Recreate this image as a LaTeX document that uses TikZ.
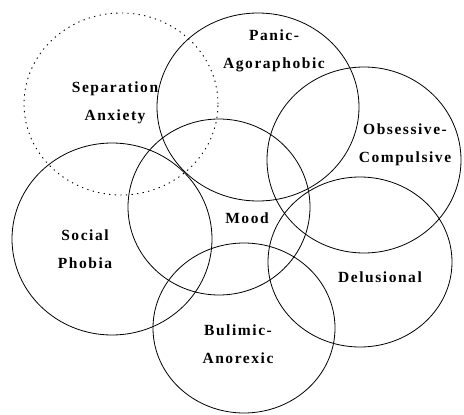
\documentclass[tikz,border=0pt]{standalone}
\usepackage{fontspec}
\setmainfont{Liberation Serif}
\newfontfamily\lblfont[LetterSpace=10]{Liberation Serif}
\usetikzlibrary{positioning}

\begin{document}
\begin{tikzpicture}[x=1pt,y=-1pt,
  ring/.style={draw=black,line width=0.8pt},
  dotring/.style={draw=black,line width=0.9pt,dash pattern=on 1.3pt off 4.3pt},
  lbl/.style={font=\lblfont\bfseries\fontsize{15.5}{28}\selectfont,align=center,inner sep=1pt}]
\useasboundingbox (0,0) rectangle (464,415);
% the seven disorder circles
\draw[dotring] (121,104) ellipse [x radius=97pt,y radius=91pt];
\draw[ring] (258,107) ellipse [x radius=101pt,y radius=94pt];
\draw[ring] (364,160) ellipse [x radius=97pt,y radius=93pt];
\draw[ring] (360,262) ellipse [x radius=92pt,y radius=85pt];
\draw[ring] (219,207) ellipse [x radius=91pt,y radius=88pt];
\draw[ring] (112,239) ellipse [x radius=100pt,y radius=96pt];
\draw[ring] (244,328) ellipse [x radius=91pt,y radius=85pt];
% labels
\node[lbl] (sep) at (115,103) {Separation\\Anxiety};
\node[lbl] (panic) at (274,51) {Panic-\\Agoraphobic};
\node[lbl] (obs) at (405,145) {Obsessive-\\Compulsive};
\node[lbl] (mood) at (247,218) {Mood};
\node[lbl] (delus) at (380,277) {Delusional};
\node[lbl] (social) at (85,249) {Social\\Phobia};
\node[lbl] (bulim) at (238,344) {Bulimic-\\Anorexic};
\end{tikzpicture}
\end{document}
